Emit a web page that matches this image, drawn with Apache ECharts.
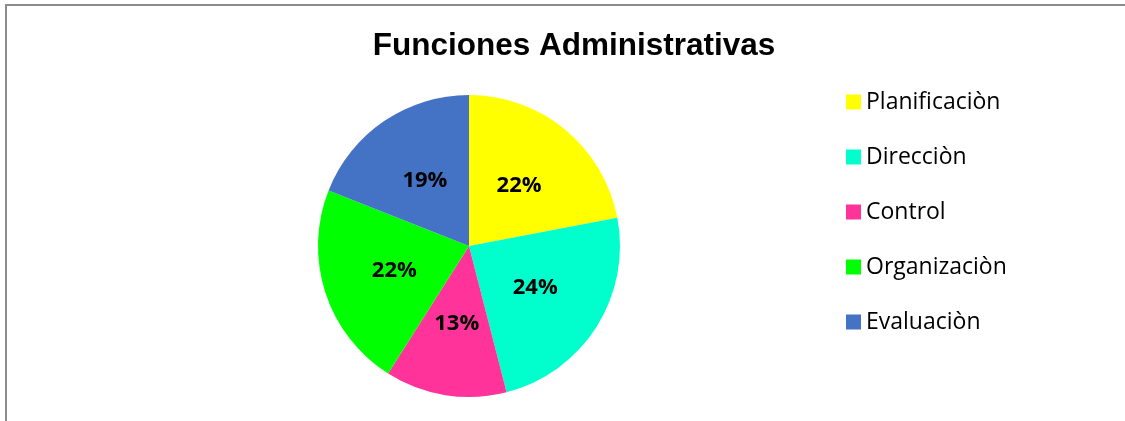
<!DOCTYPE html>
<html>
<head>
<meta charset="utf-8">
<script src="https://cdn.jsdelivr.net/npm/echarts@6/dist/echarts.min.js"></script>
<style>
html,body{margin:0;padding:0;background:#fff;}
#chart{width:1125px;height:421px;}
</style>
</head>
<body>
<div id="chart"></div>
<script>
const categories = ["Planificaciòn", "Direcciòn", "Control", "Organizaciòn", "Evaluaciòn"];
const values = [22, 24, 13, 22, 19];
const colors = ["#FFFF00", "#00FFCC", "#FF3399", "#00FF00", "#4472C4"];

const chart = echarts.init(document.getElementById('chart'));
chart.setOption({
  animation: false,
  backgroundColor: '#fff',
  title: {
    text: 'Funciones Administrativas',
    left: 569, top: 25, textAlign: 'center',
    textStyle: {fontFamily: 'Liberation Sans, Arial', fontWeight: 'bold', fontSize: 31.5, color: '#000'}
  },
  graphic: [{
    type: 'rect', silent: true,
    shape: {x: 6, y: 5, width: 1140, height: 440},
    style: {fill: 'none', stroke: '#8c8c8c', lineWidth: 2}
  }],
  legend: {
    orient: 'vertical',
    left: 846, top: 90,
    padding: 0,
    itemWidth: 15, itemHeight: 15,
    itemGap: 31,
    icon: 'rect',
    textStyle: {fontFamily: 'Open Sans', fontSize: 23, color: '#000', lineHeight: 24},
    data: categories
  },
  series: [{
    type: 'pie',
    center: [469, 246],
    radius: [0, 151],
    startAngle: 90,
    clockwise: true,
    silent: true,
    label: {
      show: true, position: 'inside',
      formatter: p => p.value + '%',
      fontFamily: 'Open Sans', fontWeight: 'bold', fontSize: 22, color: '#000'
    },
    labelLine: {show: false},
    itemStyle: {borderWidth: 0},
    data: categories.map((c, i) => ({name: c, value: values[i], itemStyle: {color: colors[i]}}))
  }]
});
</script>
</body>
</html>
